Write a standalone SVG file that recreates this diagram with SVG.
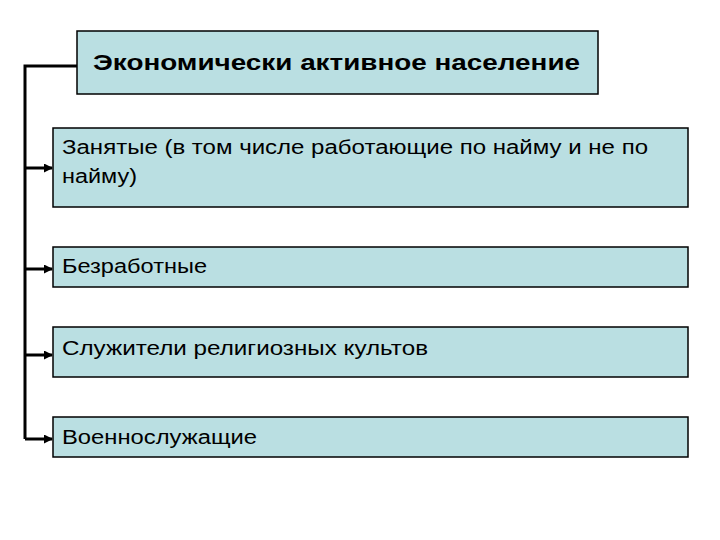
<svg xmlns="http://www.w3.org/2000/svg" width="720" height="540" viewBox="0 0 720 540">
<defs>
<style>
.box{fill:#badfe2;stroke:#000;stroke-width:1.5}
.t{font-family:"Liberation Sans",Arial,sans-serif;font-size:20px;fill:#000}
.h{font-family:"Liberation Sans",Arial,sans-serif;font-size:22.5px;font-weight:bold;fill:#000}
.c{fill:none;stroke:#000;stroke-width:3}
</style>
<marker id="arr" markerWidth="9" markerHeight="9" refX="8" refY="4.5" orient="auto" markerUnits="userSpaceOnUse">
<path d="M0,0 L9,4.5 L0,9 Z" fill="#000"/>
</marker>
</defs>
<rect width="720" height="540" fill="#fff"/>
<g id="connectors">
<path class="c" d="M77,66 H25 V439"/>
<path class="c" d="M25,168 H52" marker-end="url(#arr)"/>
<path class="c" d="M25,269 H52" marker-end="url(#arr)"/>
<path class="c" d="M25,355 H52" marker-end="url(#arr)"/>
<path class="c" d="M25,439 H52" marker-end="url(#arr)"/>
</g>
<g id="title">
<rect class="box" x="77" y="31" width="521" height="63"/>
<text class="h" x="93" y="70" textLength="487" lengthAdjust="spacingAndGlyphs">Экономически активное население</text>
</g>
<g id="employed">
<rect class="box" x="53" y="128" width="635" height="79"/>
<text class="t" x="62" y="154" textLength="586" lengthAdjust="spacingAndGlyphs">Занятые (в том числе работающие по найму и не по</text>
<text class="t" x="62" y="183" textLength="75" lengthAdjust="spacingAndGlyphs">найму)</text>
</g>
<g id="unemployed">
<rect class="box" x="53" y="247" width="635" height="40"/>
<text class="t" x="62" y="273" textLength="145" lengthAdjust="spacingAndGlyphs">Безработные</text>
</g>
<g id="clergy">
<rect class="box" x="53" y="327" width="635" height="50"/>
<text class="t" x="62" y="355" textLength="366" lengthAdjust="spacingAndGlyphs">Служители религиозных культов</text>
</g>
<g id="military">
<rect class="box" x="53" y="417" width="635" height="40"/>
<text class="t" x="62" y="444" textLength="195" lengthAdjust="spacingAndGlyphs">Военнослужащие</text>
</g>
</svg>
